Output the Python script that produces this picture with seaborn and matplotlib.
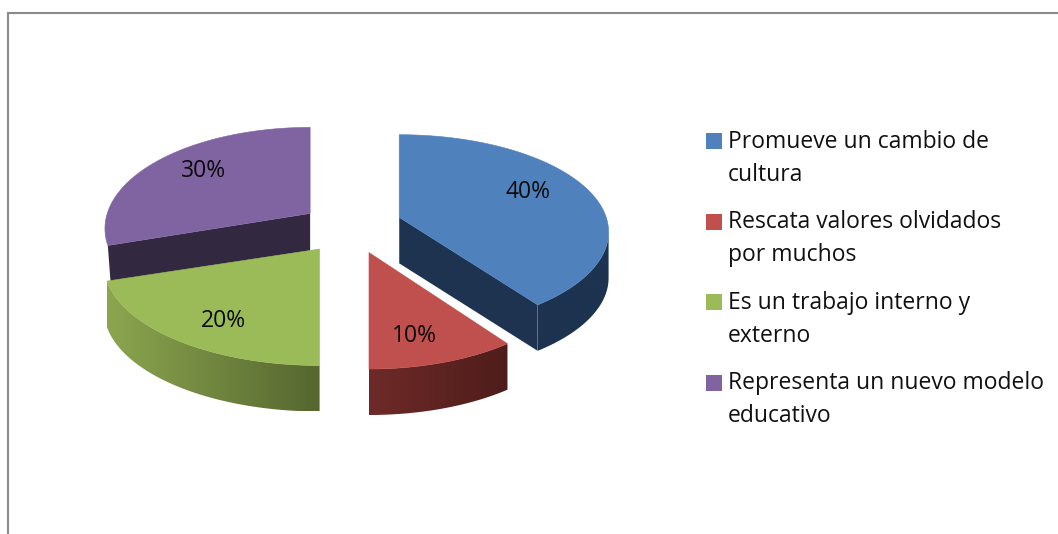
#!/usr/bin/env python3
import numpy as np
import matplotlib
matplotlib.use("Agg")
import matplotlib.pyplot as plt
from matplotlib.patches import Patch, Rectangle, Polygon
from matplotlib.legend_handler import HandlerPatch
from matplotlib.colors import LinearSegmentedColormap
import seaborn as sns

# ------------------------------------------------------------
# Data
# ------------------------------------------------------------
categories = [
    "Promueve un cambio de\ncultura",
    "Rescata valores olvidados\npor muchos",
    "Es un trabajo interno y\nexterno",
    "Representa un nuevo modelo\neducativo",
]
shares = [40, 10, 20, 30]
share_labels = ["40%", "10%", "20%", "30%"]

# ------------------------------------------------------------
# Style / layout (pixels of the 1058x534 canvas)
# ------------------------------------------------------------
palette = sns.color_palette(["#4f81bd", "#c0504d", "#9bbb59", "#8064a2"])
# rim colour at the left and right end of each wedge's front edge
rim_left = ["#1d3350", "#6e2a28", "#8ca64f", "#32283f"]
rim_right = ["#1d3350", "#4e1d1b", "#55662f", "#32283f"]
cut_colors = {"blue": "#1d3350", "purple": "#32283f"}

CX, CY = 352, 227
RX, RY = 207, 99
PERSP = 0.15
EXPLODE = 0.25
DEPTH = 46
# small hand fitted corrections per wedge
NUDGE = [(-2, -2), (1, 2), (-2, 2), (0, 1)]
RX_SCALE = [1.0, 1.0, 1.03, 0.98]
RY_SCALE = [0.96, 1.0, 1.0, 1.0]
LABEL_POS = [(528, 192), (414, 336), (223, 321), (204, 171)]

sns.set_theme(style="white")
plt.rcParams["font.family"] = ["Open Sans", "DejaVu Sans"]


def project(apex, theta, i):
    # theta is clockwise from the top of the pie
    u, v = np.sin(theta), -np.cos(theta)
    scale = 1 / (1 - PERSP * v)
    return (apex[0] + RX * RX_SCALE[i] * u * scale,
            apex[1] + RY * RY_SCALE[i] * v * scale)


def first_line_square(legend, orig_handle, xdescent, ydescent, width, height, fontsize):
    # line the swatch up with the first text line, not the middle of the label
    return Rectangle((-xdescent, -ydescent + 13), width, height)


fig = plt.figure(figsize=(10.58, 5.34), dpi=100)
ax = fig.add_axes([0, 0, 1, 1])
ax.set_xlim(0, 1058)
ax.set_ylim(534, 0)
ax.axis("off")

# chart frame (right and bottom fall outside the crop)
ax.plot([8, 8, 1058], [534, 12.5, 12.5], color="#8a8a8a", lw=1.5, solid_joinstyle="miter")

# wedge geometry from the shares
edges = 2 * np.pi * np.cumsum([0] + shares) / sum(shares)
wedges = []
for i in range(len(shares)):
    mid = (edges[i] + edges[i + 1]) / 2
    apex = (CX + EXPLODE * RX * np.sin(mid) + NUDGE[i][0],
            CY - EXPLODE * RY * np.cos(mid) + NUDGE[i][1])
    thetas = np.linspace(edges[i], edges[i + 1], 200)
    xs, ys = project(apex, thetas, i)
    wedges.append((apex, thetas, xs, ys))

# back to front: purple, blue, green, red
for i in [3, 0, 2, 1]:
    apex, thetas, xs, ys = wedges[i]

    # flat cut faces that can be seen
    if i == 0:
        px = [apex[0], xs[-1], xs[-1], apex[0]]
        py = [apex[1], ys[-1], ys[-1] + DEPTH, apex[1] + DEPTH]
        ax.fill(px, py, color=cut_colors["blue"], lw=0)
    if i == 3:
        px = [apex[0], xs[0], xs[0] + 3, apex[0]]
        py = [apex[1], ys[0], ys[0] + DEPTH - 6, apex[1] + DEPTH - 8]
        ax.fill(px, py, color=cut_colors["purple"], lw=0)

    # rim: horizontal colour ramp clipped to the side band of the wedge
    if i != 3:
        # blue starts at its rightmost point, otherwise the band crosses itself
        start = np.argmax(xs) if i == 0 else 0
        fx, fy = xs[start:], ys[start:]
        band = np.c_[np.r_[fx, fx[::-1]], np.r_[fy, fy[::-1] + DEPTH]]
        clip = Polygon(band, closed=True, transform=ax.transData, fc="none", ec="none")
        ax.add_patch(clip)
        cmap = LinearSegmentedColormap.from_list("rim", [rim_left[i], rim_right[i]])
        img = ax.imshow(np.linspace(0, 1, 256)[None, :], cmap=cmap, aspect="auto",
                        extent=(fx.min(), fx.max(), fy.max() + DEPTH, fy.min()),
                        zorder=2 + 0.01)
        img.set_clip_path(clip)

    # top face
    ax.fill(np.r_[apex[0], xs], np.r_[apex[1], ys], color=palette[i], lw=0.4,
            ec=palette[i], zorder=2.02)

ax.set_xlim(0, 1058)
ax.set_ylim(534, 0)

for pos, lab in zip(LABEL_POS, share_labels):
    ax.text(pos[0], pos[1], lab, ha="center", va="center", fontsize=16.5,
            color="#0a0a0a", zorder=3)

handles = [Patch(facecolor=c, edgecolor="none") for c in palette]
leg = ax.legend(
    handles, categories,
    handler_map={Patch: HandlerPatch(patch_func=first_line_square)},
    loc="upper left", bbox_to_anchor=(705.5 / 1058, 1 - 130 / 534),
    frameon=False, fontsize=16.5, handlelength=0.7, handleheight=0.7,
    handletextpad=0.26, labelspacing=1.02, borderpad=0, borderaxespad=0,
)
for t in leg.get_texts():
    t.set_linespacing(1.5)
    t.set_color("#111111")

fig.savefig("out.png", dpi=100)
